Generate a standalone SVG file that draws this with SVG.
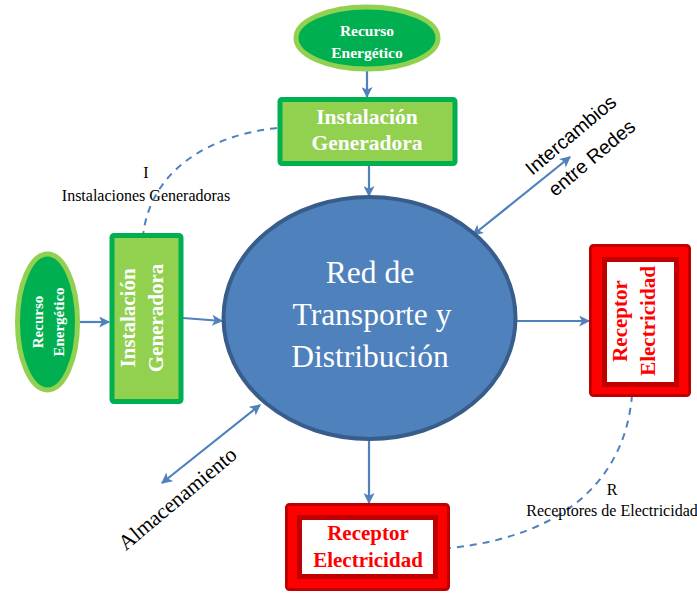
<svg xmlns="http://www.w3.org/2000/svg" width="697" height="595" viewBox="0 0 697 595">
<defs>
<marker id="ah" viewBox="0 0 10 10" refX="9" refY="5" markerWidth="5.5" markerHeight="5" orient="auto-start-reverse" markerUnits="strokeWidth">
<path d="M0,0 L10,5 L0,10 L2.5,5 Z" fill="#4F81BD"/>
</marker>
</defs>
<style>
.conn{stroke:#4F81BD;stroke-width:2.2;fill:none}
.dash{stroke:#4F81BD;stroke-width:2;fill:none;stroke-dasharray:7,6}
.gen{fill:#92D050;stroke:#00B050;stroke-width:5}
.res{fill:#00B050;stroke:#92D050;stroke-width:5}
.wb{font-family:"Liberation Serif",serif;font-weight:bold;fill:#fff;text-anchor:middle}
.rb{font-family:"Liberation Serif",serif;font-weight:bold;fill:#FF0000;text-anchor:middle}
.lbl{font-family:"Liberation Serif",serif;fill:#000;text-anchor:middle;font-size:16px}
.sans{font-family:"Liberation Sans",sans-serif;fill:#000;text-anchor:middle;font-size:19.5px}
</style>
<rect width="697" height="595" fill="#fff"/>
<g id="connectors">
<line class="conn" x1="367" y1="71" x2="367" y2="97" marker-end="url(#ah)"/>
<line class="conn" x1="369" y1="165" x2="369" y2="196" marker-end="url(#ah)"/>
<line class="conn" x1="80" y1="322" x2="109" y2="322" marker-end="url(#ah)"/>
<line class="conn" x1="183" y1="318" x2="222" y2="321" marker-end="url(#ah)"/>
<line class="conn" x1="517" y1="321" x2="589" y2="321" marker-end="url(#ah)"/>
<line class="conn" x1="369" y1="441" x2="369" y2="503" marker-end="url(#ah)"/>
<line class="conn" x1="473" y1="235" x2="570" y2="157" marker-start="url(#ah)" marker-end="url(#ah)"/>
<line class="conn" x1="162" y1="483" x2="260" y2="405" marker-start="url(#ah)" marker-end="url(#ah)"/>
<path class="dash" d="M277,128 C210,135 150,170 143,236"/>
<path class="dash" d="M632,395 C626,470 575,535 450,548"/>
</g>
<g id="recurso-top">
<ellipse class="res" cx="367" cy="38" rx="71" ry="31"/>
<text class="wb" x="367" y="36" font-size="15.5">Recurso</text>
<text class="wb" x="367" y="58" font-size="15.5">Energético</text>
</g>
<g id="instalacion-top">
<rect class="gen" x="280" y="99.5" width="175" height="64" rx="2"/>
<text class="wb" x="367" y="124" font-size="21.5">Instalación</text>
<text class="wb" x="367" y="150" font-size="21.5">Generadora</text>
</g>
<g id="red">
<ellipse cx="369.5" cy="318" rx="146" ry="121" fill="#4F81BD" stroke="#385D8A" stroke-width="4"/>
<text x="370" y="283" font-family="Liberation Serif, serif" font-size="31.5" fill="#fff" text-anchor="middle">Red de</text>
<text x="372" y="325" font-family="Liberation Serif, serif" font-size="31.5" fill="#fff" text-anchor="middle">Transporte y</text>
<text x="370" y="367" font-family="Liberation Serif, serif" font-size="31.5" fill="#fff" text-anchor="middle">Distribución</text>
</g>
<g id="recurso-left">
<ellipse class="res" cx="47.5" cy="322" rx="30" ry="68"/>
<g transform="translate(47.5,322) rotate(-90)">
<text class="wb" x="0" y="-5" font-size="15">Recurso</text>
<text class="wb" x="0" y="16" font-size="15">Energético</text>
</g>
</g>
<g id="instalacion-left">
<rect class="gen" x="112" y="235.5" width="69" height="166" rx="2"/>
<g transform="translate(146,318) rotate(-90)">
<text class="wb" x="0" y="-11" font-size="21">Instalación</text>
<text class="wb" x="0" y="17" font-size="21">Generadora</text>
</g>
</g>
<g id="receptor-right">
<rect x="590.5" y="245.5" width="99" height="150" rx="3" fill="#FF0000" stroke="#C00000" stroke-width="3"/>
<rect x="604.5" y="259.5" width="72" height="125" fill="#fff" stroke="#C00000" stroke-width="5"/>
<g transform="translate(634,321) rotate(-90)">
<text class="rb" x="0" y="-7" font-size="21">Receptor</text>
<text class="rb" x="0" y="21" font-size="21">Electricidad</text>
</g>
</g>
<g id="receptor-bottom">
<rect x="286.5" y="504.5" width="162" height="85" rx="3" fill="#FF0000" stroke="#C00000" stroke-width="3"/>
<rect x="299.5" y="517.5" width="136" height="59" fill="#fff" stroke="#C00000" stroke-width="5"/>
<text class="rb" x="368" y="540" font-size="21">Receptor</text>
<text class="rb" x="368" y="567" font-size="21">Electricidad</text>
</g>
<g id="labels">
<text class="lbl" x="146" y="178">I</text>
<text class="lbl" x="146" y="201">Instalaciones Generadoras</text>
<text class="lbl" x="612" y="495">R</text>
<text class="lbl" x="612" y="516">Receptores de Electricidad</text>
<text class="sans" transform="translate(575,140) rotate(-40)">Intercambios</text>
<text class="sans" transform="translate(596,163) rotate(-40)">entre Redes</text>
<text x="0" y="0" font-family="Liberation Serif, serif" font-size="21.5" text-anchor="middle" transform="translate(182,504) rotate(-40)">Almacenamiento</text>
</g>
</svg>
